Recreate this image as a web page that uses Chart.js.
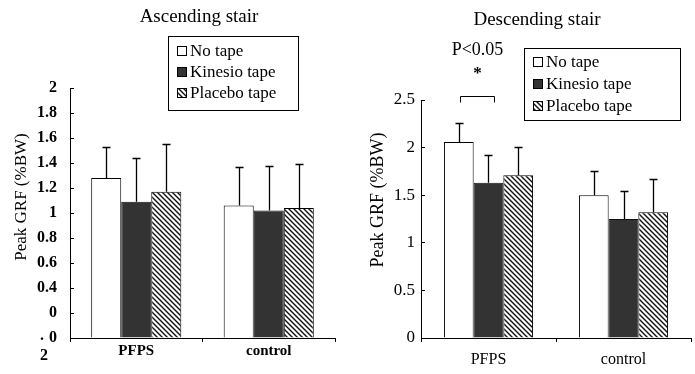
<!DOCTYPE html>
<html>
<head>
<meta charset="utf-8">
<script src="https://cdn.jsdelivr.net/npm/chart.js@4"></script>
<style>
  body { margin: 0; background: #fff; }
  #wrap { position: relative; width: 695px; height: 374px; }
  canvas { position: absolute; top: 0; }
  #left { left: 0; }
  #right { left: 345px; }
</style>
</head>
<body>
<div id="wrap">
  <canvas id="left" width="345" height="374"></canvas>
  <canvas id="right" width="350" height="374"></canvas>
</div>
<script>
const groups = ["PFPS", "control"];
const seriesNames = ["No tape", "Kinesio tape", "Placebo tape"];

// ascending stair: mean and SD per group
const ascNoTape = [1.28, 1.06];
const ascKinesio = [1.09, 1.02];
const ascPlacebo = [1.17, 1.04];
const ascNoTapeSD = [0.25, 0.31];
const ascKinesioSD = [0.35, 0.36];
const ascPlaceboSD = [0.38, 0.35];
const ascTickLabels = ["0", "0", "0.4", "0.6", "0.8", "1", "1.2", "1.4", "1.6", "1.8", "2"];

// descending stair
const descNoTape = [2.06, 1.50];
const descKinesio = [1.63, 1.25];
const descPlacebo = [1.71, 1.32];
const descNoTapeSD = [0.20, 0.25];
const descKinesioSD = [0.29, 0.29];
const descPlaceboSD = [0.30, 0.35];
const descTickLabels = ["0", "0.5", "1", "1.5", "2", "2.5"];

const SERIF = "'Liberation Serif', 'Times New Roman', serif";

function makeHatch(size) {
  const c = document.createElement("canvas");
  c.width = c.height = size;
  const g = c.getContext("2d");
  g.fillStyle = "#fff";
  g.fillRect(0, 0, size, size);
  g.strokeStyle = "#111";
  g.lineWidth = 1.4;
  g.beginPath();
  g.moveTo(0, 0); g.lineTo(size, size);
  g.moveTo(-2, size - 2); g.lineTo(2, size + 2);
  g.moveTo(size - 2, -2); g.lineTo(size + 2, 2);
  g.stroke();
  return g.createPattern(c, "repeat");
}
const hatch = makeHatch(5);

function makeDatasets(a, b, c, sa, sb, sc) {
  return [
    { label: seriesNames[0], data: a, sd: sa, backgroundColor: "#fff", borderColor: "#000", borderWidth: 1 },
    { label: seriesNames[1], data: b, sd: sb, backgroundColor: "#333", borderColor: "#111", borderWidth: 1 },
    { label: seriesNames[2], data: c, sd: sc, backgroundColor: hatch, borderColor: "#000", borderWidth: 1 },
  ];
}

// error bars, titles, legend box
function makeDecor(cfg) {
  return {
    id: "decor",
    afterDatasetsDraw(chart) {
      const ctx = chart.ctx;
      const y = chart.scales.y;
      ctx.save();
      ctx.strokeStyle = "#000";
      ctx.lineWidth = 1.3;
      chart.data.datasets.forEach((ds, i) => {
        chart.getDatasetMeta(i).data.forEach((bar, j) => {
          const x = Math.round(bar.x) + 0.5;
          const top = Math.round(y.getPixelForValue(ds.data[j] + ds.sd[j])) + 0.5;
          ctx.beginPath();
          ctx.moveTo(x, bar.y);
          ctx.lineTo(x, top);
          ctx.moveTo(x - 4, top);
          ctx.lineTo(x + 4, top);
          ctx.stroke();
        });
      });
      ctx.lineWidth = 1;

      ctx.fillStyle = "#000";
      ctx.textAlign = "center";
      ctx.textBaseline = "middle";
      ctx.font = cfg.titleFont;
      ctx.fillText(cfg.title, cfg.titleX, cfg.titleY);

      ctx.save();
      ctx.translate(cfg.yTitleX, cfg.yTitleY);
      ctx.rotate(-Math.PI / 2);
      ctx.font = cfg.yTitleFont;
      ctx.fillText("Peak GRF (%BW)", 0, 0);
      ctx.restore();

      // legend
      const L = cfg.legend;
      ctx.fillStyle = "#fff";
      ctx.fillRect(L.x, L.y, L.w, L.h);
      ctx.strokeRect(L.x + 0.5, L.y + 0.5, L.w, L.h);
      ctx.font = "17px " + SERIF;
      ctx.textAlign = "left";
      chart.data.datasets.forEach((ds, i) => {
        const cy = L.y + L.first + i * L.step;
        ctx.fillStyle = ds.backgroundColor;
        ctx.fillRect(L.x + 9, cy - 5, 10, 10);
        ctx.strokeStyle = "#000";
        ctx.strokeRect(L.x + 9.5, cy - 4.5, 9, 9);
        ctx.fillStyle = "#000";
        ctx.fillText(ds.label, L.x + 22, cy + 1);
      });

      if (cfg.extra) cfg.extra(chart, ctx);
      ctx.restore();
    },
  };
}

function makeOptions(cfg) {
  return {
    responsive: false,
    animation: false,
    layout: { padding: { left: 0, right: cfg.padRight, top: cfg.padTop, bottom: 0 } },
    plugins: { legend: { display: false }, title: { display: false }, tooltip: { enabled: false } },
    scales: {
      x: {
        offset: true,
        grid: { offset: true, drawOnChartArea: false, tickLength: 4, color: "#000" },
        border: { color: "#000" },
        ticks: { color: "#000", font: cfg.xFont, padding: cfg.xPad },
        afterFit: (s) => { s.height = 36; },
      },
      y: {
        min: 0,
        max: cfg.max,
        ticks: {
          stepSize: cfg.step,
          color: "#000",
          font: cfg.yFont,
          padding: cfg.yPad,
          callback: (v, i) => cfg.tickLabels[i],
        },
        grid: { drawOnChartArea: false, tickLength: -4, color: "#000" },
        border: { color: "#000" },
        afterFit: (s) => { s.width = cfg.axisX; },
      },
    },
  };
}

new Chart(document.getElementById("left"), {
  type: "bar",
  data: { labels: groups, datasets: makeDatasets(ascNoTape, ascKinesio, ascPlacebo, ascNoTapeSD, ascKinesioSD, ascPlaceboSD) },
  options: Object.assign(makeOptions({
    padRight: 10, padTop: 88, max: 2, step: 0.2, axisX: 70, yPad: 17, xPad: 0,
    tickLabels: ascTickLabels,
    yFont: { family: SERIF, size: 16, weight: "bold" },
    xFont: { family: SERIF, size: 15, weight: "bold" },
  }), {
    datasets: { bar: { barPercentage: 1, categoryPercentage: 0.68 } },
  }),
  plugins: [makeDecor({
    title: "Ascending stair", titleFont: "19px " + SERIF, titleX: 199, titleY: 17,
    yTitleX: 22, yTitleY: 197, yTitleFont: "17px " + SERIF,
    legend: { x: 168, y: 36, w: 130, h: 74, first: 15, step: 21 },
    extra: (chart, ctx) => {
      ctx.textAlign = "center";
      ctx.font = "bold 16px " + SERIF;
      ctx.fillText(".", 42, 336);
      ctx.fillText("2", 44, 356);
    },
  })],
});

new Chart(document.getElementById("right"), {
  type: "bar",
  data: { labels: groups, datasets: makeDatasets(descNoTape, descKinesio, descPlacebo, descNoTapeSD, descKinesioSD, descPlaceboSD) },
  options: Object.assign(makeOptions({
    padRight: 4, padTop: 100, max: 2.5, step: 0.5, axisX: 76, yPad: 10, xPad: 8,
    tickLabels: descTickLabels,
    yFont: { family: SERIF, size: 17 },
    xFont: { family: SERIF, size: 16 },
  }), {
    datasets: { bar: { barPercentage: 1, categoryPercentage: 0.66 } },
  }),
  plugins: [makeDecor({
    title: "Descending stair", titleFont: "19px " + SERIF, titleX: 192, titleY: 20,
    yTitleX: 33, yTitleY: 200, yTitleFont: "18px " + SERIF,
    legend: { x: 179, y: 48, w: 156, h: 72, first: 14, step: 22 },
    extra: (chart, ctx) => {
      const white = chart.getDatasetMeta(0).data[0];
      const black = chart.getDatasetMeta(1).data[0];
      const by = Math.round(chart.scales.y.getPixelForValue(2.54)) + 0.5;
      const x1 = Math.round(white.x) + 1.5;
      const x2 = Math.round(black.x) + 6.5;
      ctx.strokeStyle = "#000";
      ctx.beginPath();
      ctx.moveTo(x1, by + 6); ctx.lineTo(x1, by); ctx.lineTo(x2, by); ctx.lineTo(x2, by + 6);
      ctx.stroke();
      ctx.textAlign = "center";
      ctx.font = "18px " + SERIF;
      ctx.fillText("P<0.05", (x1 + x2) / 2, 50);
      ctx.font = "bold 17px " + SERIF;
      ctx.fillText("*", (x1 + x2) / 2, 74);
    },
  })],
});
</script>
</body>
</html>
